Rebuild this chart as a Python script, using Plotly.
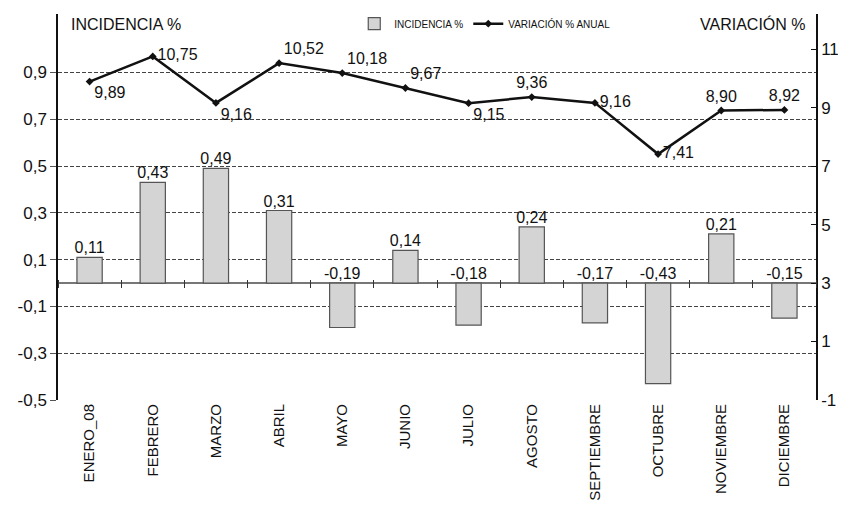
import plotly.graph_objects as go

months = ["ENERO_08", "FEBRERO", "MARZO", "ABRIL", "MAYO", "JUNIO", "JULIO",
          "AGOSTO", "SEPTIEMBRE", "OCTUBRE", "NOVIEMBRE", "DICIEMBRE"]
incidencia = [0.11, 0.43, 0.49, 0.31, -0.19, 0.14, -0.18, 0.24, -0.17, -0.43, 0.21, -0.15]
variacion = [9.89, 10.75, 9.16, 10.52, 10.18, 9.67, 9.15, 9.36, 9.16, 7.41, 8.90, 8.92]
var_label_pos = ["bottom right", "middle right", "bottom right", "top right", "top right",
                 "top right", "bottom right", "top center", "middle right", "middle right",
                 "top center", "top center"]
left_ticks = [-0.5, -0.3, -0.1, 0.1, 0.3, 0.5, 0.7, 0.9]
right_ticks = [-1, 1, 3, 5, 7, 9, 11]

FONT = "Liberation Sans, Arial, sans-serif"

def fmt(v, d):
    return f"{v:.{d}f}".replace(".", ",")

LRANGE = [-0.5, 1.15]
RRANGE = [-1, 12.2]

fig = go.Figure()
fig.add_trace(go.Bar(
    x=months, y=incidencia, name="INCIDENCIA %",
    marker=dict(color="#d4d4d4", line=dict(color="#555555", width=1.2)),
    yaxis="y", xaxis="x",
))
fig.add_trace(go.Scatter(
    x=months, y=[max(v, 0) for v in incidencia], mode="text",
    text=[fmt(v, 2) for v in incidencia], textposition="top center",
    textfont=dict(family=FONT, size=16, color="#111"),
    showlegend=False, hoverinfo="skip", xaxis="x2", yaxis="y",
))
fig.add_trace(go.Scatter(
    x=months, y=variacion, name="VARIACIÓN % ANUAL", mode="lines+markers+text",
    line=dict(color="#111111", width=2.5),
    marker=dict(symbol="diamond", size=6, color="#111111"),
    text=[fmt(v, 2) for v in variacion], textposition=var_label_pos,
    textfont=dict(family=FONT, size=16, color="#111"),
    yaxis="y2", xaxis="x",
))

pos0 = (0 - LRANGE[0]) / (LRANGE[1] - LRANGE[0]) + 4 / 386

fig.update_layout(
    width=838, height=503,
    margin=dict(l=50, r=30, t=6, b=111, autoexpand=False),
    paper_bgcolor="white", plot_bgcolor="white",
    bargap=0.6,
    showlegend=True,
    legend=dict(orientation="h", x=0.563, xanchor="center", y=0.975, yanchor="middle",
                font=dict(family=FONT, size=10, color="#111"),
                bgcolor="rgba(0,0,0,0)", itemwidth=30, tracegroupgap=0),
    xaxis=dict(type="category", categoryorder="array", categoryarray=months,
               range=[-0.5, 11.5], showgrid=False, showline=False, ticks="",
               tickangle=-90, tickfont=dict(family=FONT, size=15, color="#111"),
               zeroline=False, automargin=False),
    xaxis2=dict(type="category", categoryorder="array", categoryarray=months,
                range=[-0.5, 11.5], overlaying="x", anchor="free", position=pos0,
                side="bottom", showgrid=False, showline=False, showticklabels=False,
                ticks="outside", tickson="boundaries", ticklen=8, tickcolor="#333",
                tickwidth=1, zeroline=False, automargin=False),
    yaxis=dict(range=LRANGE, tickvals=left_ticks, ticktext=[fmt(v, 1) for v in left_ticks],
               tickfont=dict(family=FONT, size=17, color="#111"),
               showgrid=True, gridcolor="#444", griddash="4px,2px", gridwidth=1,
               zeroline=True, zerolinecolor="#777", zerolinewidth=1.5,
               showline=True, linecolor="#111", linewidth=1.5,
               ticks="outside", ticklen=6, tickcolor="#555", tickwidth=1, automargin=False),
    yaxis2=dict(range=RRANGE, tickvals=right_ticks, ticktext=[str(v) for v in right_ticks],
                overlaying="y", side="right", anchor="x",
                tickfont=dict(family=FONT, size=17, color="#111"),
                showgrid=False, zeroline=False, showline=True, linecolor="#111",
                linewidth=1.5, ticks="inside", ticklen=5, tickcolor="#111", automargin=False),
    annotations=[
        dict(text="INCIDENCIA %", xref="paper", yref="paper", x=0.014, y=0.974,
             xanchor="left", yanchor="middle", showarrow=False,
             font=dict(family=FONT, size=16, color="#111")),
        dict(text="VARIACIÓN %", xref="paper", yref="paper", x=0.99, y=0.974,
             xanchor="right", yanchor="middle", showarrow=False,
             font=dict(family=FONT, size=16, color="#111")),
    ],
)

fig.write_html("out.html")
